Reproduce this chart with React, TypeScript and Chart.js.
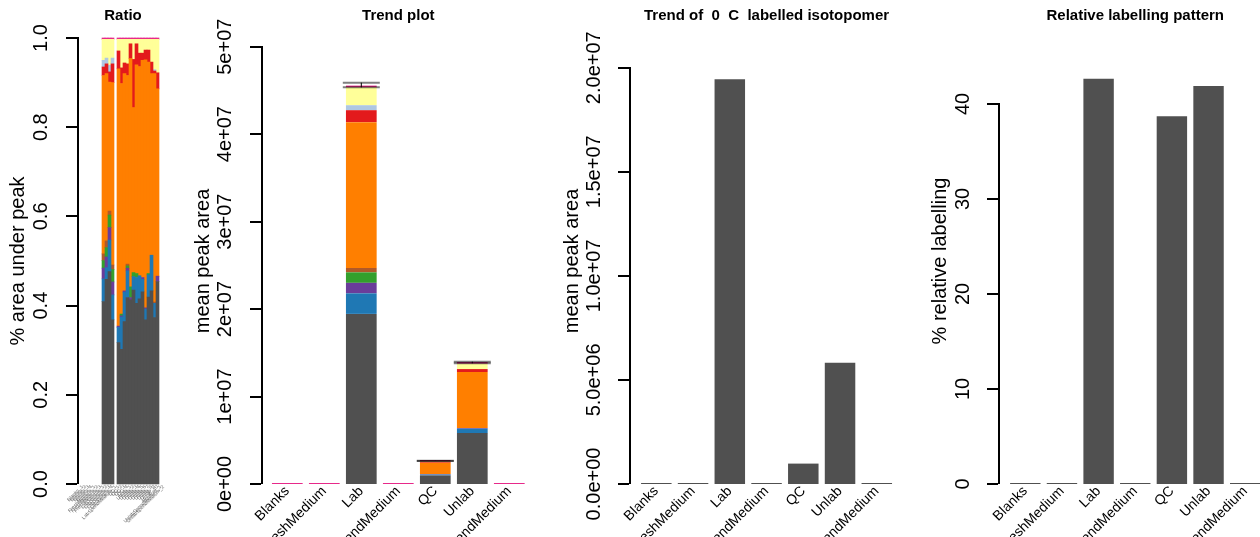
import React, { useEffect, useRef } from 'react';
import { Chart, registerables } from 'chart.js';

Chart.register(...registerables);

const FONT = '"Liberation Sans", Arial, Helvetica, sans-serif';
Chart.defaults.font.family = FONT;
Chart.defaults.color = '#000';

// ---------------- DATA ----------------
const groupNames = ['Blanks', 'FreshMedium', 'Lab', 'LabSpendMedium', 'QC', 'Unlab', 'UnlabSpendMedium'];

const sampleNames = [
  'Blanks_1', 'Blanks_2', 'Blanks_3', 'Blanks_4',
  'FreshMedium_1', 'FreshMedium_2', 'FreshMedium_3',
  'LabSample_1', 'LabSample_2', 'LabSample_3', 'LabSample_4',
  'LabSpendMedium_1',
  'QC_1', 'QC_2', 'QC_3', 'QC_4',
  'Unlab_1', 'Unlab_2', 'Unlab_3', 'Unlab_4', 'Unlab_5', 'Unlab_6', 'Unlab_7', 'Unlab_8', 'Unlab_9', 'Unlab_10',
  'UnlabSpendMedium_1', 'UnlabSpendMedium_2',
];

const isotopologueNames = ['M+0', 'M+1', 'M+2', 'M+3', 'M+4', 'M+5', 'M+6', 'M+7', 'M+8', 'M+9'];
const isotopologueColors = ['#505050', '#1F78B4', '#6A3D9A', '#33A02C', '#B15928', '#FF7F00', '#E31A1C', '#AFC7E2', '#FFFF99', '#E7298A'];

// Ratio (fraction of area under peak) per sample
const ratioM0 = [0, 0, 0, 0, 0, 0, 0, 0.409, 0.459, 0.476, 0.368, 0, 0.317, 0.302, 0.364, 0.418, 0.413, 0.435, 0.405, 0.415, 0.431, 0.368, 0.419, 0.433, 0.373, 0.454, 0, 0];
const ratioM1 = [0, 0, 0, 0, 0, 0, 0, 0.051, 0.026, 0.071, 0.056, 0, 0.034, 0.072, 0.066, 0.060, 0, 0.030, 0.058, 0.052, 0.028, 0.024, 0.050, 0.080, 0.032, 0, 0, 0];
const ratioM2 = [0, 0, 0, 0, 0, 0, 0, 0.024, 0.024, 0.028, 0.029, 0, 0.003, 0.003, 0.003, 0.006, 0.005, 0, 0, 0, 0.004, 0.003, 0, 0, 0, 0.012, 0, 0];
const ratioM3 = [0, 0, 0, 0, 0, 0, 0, 0.017, 0.021, 0.028, 0.028, 0, 0, 0.004, 0, 0.005, 0.024, 0.009, 0.009, 0, 0, 0, 0.003, 0, 0, 0, 0, 0];
const ratioM4 = [0, 0, 0, 0, 0, 0, 0, 0.015, 0.015, 0.009, 0.010, 0, 0, 0, 0, 0.004, 0, 0, 0, 0, 0, 0, 0, 0, 0.003, 0, 0, 0];
const ratioM5 = [0, 0, 0, 0, 0, 0, 0, 0.400, 0.375, 0.289, 0.409, 0, 0.577, 0.517, 0.487, 0.423, 0.512, 0.370, 0.468, 0.469, 0.487, 0.556, 0.474, 0.407, 0.512, 0.420, 0, 0];
const ratioM6 = [0, 0, 0, 0, 0, 0, 0, 0.019, 0.022, 0.023, 0.042, 0, 0.040, 0.035, 0.024, 0.026, 0.033, 0.108, 0.047, 0.030, 0.016, 0.022, 0.027, 0.026, 0.006, 0.036, 0, 0];
const ratioM7 = [0, 0, 0, 0, 0, 0, 0, 0.015, 0.013, 0.015, 0.013, 0, 0, 0, 0, 0, 0, 0, 0, 0, 0, 0, 0, 0, 0.003, 0, 0, 0];
const ratioM8 = [0, 0, 0, 0, 0, 0, 0, 0.047, 0.042, 0.058, 0.042, 0, 0.026, 0.064, 0.053, 0.055, 0.010, 0.045, 0.010, 0.031, 0.031, 0.024, 0.024, 0.051, 0.068, 0.075, 0, 0];
const ratioM9 = [0, 0, 0, 0, 0, 0, 0, 0.003, 0.003, 0.003, 0.003, 0, 0.003, 0.003, 0.003, 0.003, 0.003, 0.003, 0.003, 0.003, 0.003, 0.003, 0.003, 0.003, 0.003, 0.003, 0, 0];
const ratioSeries = [ratioM0, ratioM1, ratioM2, ratioM3, ratioM4, ratioM5, ratioM6, ratioM7, ratioM8, ratioM9];

// Trend plot: mean peak area per group, per isotopologue
const trendM0 = [0, 0, 1.945e7, 0, 0.98e6, 5.82e6, 0];
const trendM1 = [0, 0, 2.35e6, 0, 0.10e6, 0.50e6, 0];
const trendM2 = [0, 0, 1.2e6, 0, 0.05e6, 0.08e6, 0];
const trendM3 = [0, 0, 1.2e6, 0, 0, 0, 0];
const trendM4 = [0, 0, 0.5e6, 0, 0, 0, 0];
const trendM5 = [0, 0, 1.667e7, 0, 1.30e6, 6.40e6, 0];
const trendM6 = [0, 0, 1.37e6, 0, 0.12e6, 0.34e6, 0];
const trendM7 = [0, 0, 0.57e6, 0, 0, 0, 0];
const trendM8 = [0, 0, 2.04e6, 0, 0.07e6, 0.61e6, 0];
const trendM9 = [0, 0, 0.2e6, 0, 0.02e6, 0.2e6, 0];
const trendSeries = [trendM0, trendM1, trendM2, trendM3, trendM4, trendM5, trendM6, trendM7, trendM8, trendM9];
const trendTotalMean = [null, null, 4.562e7, null, 2.65e6, 1.389e7, null];
const trendTotalSd = [null, null, 0.027e7, null, 0.01e6, 0.009e7, null];

// Trend of labelled isotopomer (M+0 mean peak area)
const labelledMean = trendM0;

// Relative labelling pattern (%)
const relativeLabelling = [0, 0, 42.65, 0, 38.7, 41.9, 0];

// Tick values and labels
const ratioTicks = [0, 0.2, 0.4, 0.6, 0.8, 1.0];
const ratioTickLabels = ['0.0', '0.2', '0.4', '0.6', '0.8', '1.0'];
const trendTicks = [0, 1e7, 2e7, 3e7, 4e7, 5e7];
const trendTickLabels = ['0e+00', '1e+07', '2e+07', '3e+07', '4e+07', '5e+07'];
const labelledTicks = [0, 5e6, 1e7, 1.5e7, 2e7];
const labelledTickLabels = ['0.0e+00', '5.0e+06', '1.0e+07', '1.5e+07', '2.0e+07'];
const relTicks = [0, 10, 20, 30, 40];
const relTickLabels = ['0', '10', '20', '30', '40'];

// ---------------- PLUGINS ----------------
const yTitlePlugin = {
  id: 'yTitle',
  afterDraw(chart: any, _args: any, opts: any) {
    if (!opts || !opts.text) return;
    const { ctx } = chart;
    ctx.save();
    ctx.translate(opts.x, opts.y);
    ctx.rotate(-Math.PI / 2);
    ctx.font = `20px ${FONT}`;
    ctx.fillStyle = '#000';
    ctx.textAlign = 'center';
    ctx.textBaseline = 'middle';
    ctx.fillText(opts.text, 0, 0);
    ctx.restore();
  },
};

const errorBarPlugin = {
  id: 'errorBars',
  afterDatasetsDraw(chart: any, _args: any, opts: any) {
    if (!opts || !opts.means) return;
    const { ctx } = chart;
    const x = chart.scales.x;
    const y = chart.scales.y;
    const half = (x.getPixelForValue(1) - x.getPixelForValue(0)) / 2;
    opts.means.forEach((m: number | null, i: number) => {
      const e = opts.sds[i];
      if (m == null || e == null) return;
      const cx = x.getPixelForValue(i);
      const yHi = y.getPixelForValue(m + e);
      const yLo = y.getPixelForValue(m - e);
      ctx.save();
      ctx.strokeStyle = '#000';
      ctx.lineWidth = 1;
      ctx.beginPath();
      ctx.moveTo(cx, yHi);
      ctx.lineTo(cx, yLo);
      ctx.stroke();
      ctx.strokeStyle = 'rgba(0,0,0,0.5)';
      ctx.lineWidth = 2;
      ctx.beginPath();
      ctx.moveTo(cx - half, yHi);
      ctx.lineTo(cx + half, yHi);
      ctx.stroke();
      ctx.beginPath();
      ctx.moveTo(cx - half, yLo);
      ctx.lineTo(cx + half, yLo);
      ctx.stroke();
      ctx.restore();
    });
  },
};

// ---------------- CONFIG BUILDER ----------------
const H = 537;

function panelConfig(o: any) {
  return {
    type: 'bar',
    data: {
      labels: o.names.map((_: string, i: number) => i),
      datasets: o.datasets,
    },
    options: {
      responsive: false,
      maintainAspectRatio: false,
      animation: false,
      devicePixelRatio: 1,
      layout: { padding: { left: 0, top: 0, right: o.padRight, bottom: 0 } },
      datasets: {
        bar: {
          categoryPercentage: 1,
          barPercentage: o.barPct,
          borderWidth: 0,
          clip: false,
          inflateAmount: (c: any) => (c.raw ? (o.barPct === 1 ? 0.33 : 0) : 0),
        },
      },
      plugins: {
        legend: { display: false },
        tooltip: { enabled: false },
        title: {
          display: true,
          text: o.title,
          fullSize: false,
          color: '#000',
          font: { size: 15, weight: 'bold', family: FONT },
          padding: { top: 7, bottom: o.top - 25 },
        },
        yTitle: { text: o.yTitle, x: o.yTitleX, y: 261 },
        errorBars: o.errorBars || {},
      },
      scales: {
        x: {
          type: 'linear',
          stacked: true,
          min: o.xMin,
          max: o.xMax,
          offset: false,
          afterBuildTicks: (s: any) => {
            s.ticks = o.names.map((_: string, i: number) => ({ value: i }));
          },
          ticks: {
            autoSkip: false,
            minRotation: 45,
            maxRotation: 45,
            padding: o.xPad,
            color: o.xColor,
            font: { size: o.xFont, family: FONT },
            callback: (_v: any, i: number) => o.names[i],
          },
          grid: { display: false, drawTicks: false },
          border: { display: false },
          afterFit: (s: any) => {
            s.height = H - o.bottom;
          },
        },
        y: {
          type: 'linear',
          stacked: true,
          min: 0,
          max: o.yMax,
          afterBuildTicks: (s: any) => {
            s.ticks = o.yTicks.map((v: number) => ({ value: v }));
          },
          ticks: {
            autoSkip: false,
            minRotation: 90,
            maxRotation: 90,
            crossAlign: 'center',
            padding: o.yTickPad,
            color: '#000',
            font: { size: 20, family: FONT },
            callback: (_v: any, i: number) => o.yTickLabels[i],
          },
          grid: {
            drawOnChartArea: false,
            drawTicks: true,
            tickLength: 12,
            color: '#000',
            lineWidth: 0,
            tickWidth: 2,
            tickColor: '#000',
          },
          border: { display: true, color: '#000', width: 2 },
          afterFit: (s: any) => {
            s.width = o.yWidth;
          },
        },
      },
    },
    plugins: [yTitlePlugin, errorBarPlugin],
  };
}

function stackedDatasets(series: number[][], zeroLine: boolean) {
  return series.map((d, k) => ({
    label: isotopologueNames[k],
    data: d,
    backgroundColor: isotopologueColors[k],
    minBarLength: zeroLine && k === series.length - 1 ? 1 : 0,
  }));
}

function ChartPanel({ left, width, make }: { left: number; width: number; make: () => any }) {
  const ref = useRef<HTMLCanvasElement | null>(null);
  useEffect(() => {
    const chart = new Chart(ref.current as HTMLCanvasElement, make());
    return () => chart.destroy();
  }, []);
  return (
    <canvas
      ref={ref}
      width={width}
      height={H}
      style={{ position: 'absolute', left, top: 0, width, height: H }}
    />
  );
}

const makeRatio = () =>
  panelConfig({
    names: sampleNames,
    datasets: stackedDatasets(ratioSeries, false),
    title: 'Ratio',
    yTitle: '% area under peak',
    yTitleX: 18,
    top: 38,
    bottom: 484,
    yWidth: 78,
    padRight: 27,
    xMin: -1.5,
    xMax: 28.5,
    barPct: 1,
    xFont: 5,
    xColor: '#666',
    xPad: 0,
    yMax: 1,
    yTicks: ratioTicks,
    yTickLabels: ratioTickLabels,
    yTickPad: 10.4,
  });

const makeTrend = () =>
  panelConfig({
    names: groupNames,
    datasets: stackedDatasets(trendSeries, true),
    title: 'Trend plot',
    yTitle: 'mean peak area',
    yTitleX: 13,
    top: 46.7,
    bottom: 484,
    yWidth: 72,
    padRight: 15.4,
    xMin: -0.684,
    xMax: 6.684,
    barPct: 0.83,
    xFont: 14,
    xColor: '#000',
    xPad: -1,
    yMax: 5e7,
    yTicks: trendTicks,
    yTickLabels: trendTickLabels,
    yTickPad: -3.1,
    errorBars: { means: trendTotalMean, sds: trendTotalSd },
  });

const makeLabelled = () =>
  panelConfig({
    names: groupNames,
    datasets: [{ label: 'M+0', data: labelledMean, backgroundColor: '#505050', minBarLength: 1 }],
    title: 'Trend of  0  C  labelled isotopomer',
    yTitle: 'mean peak area',
    yTitleX: 27,
    top: 67.7,
    bottom: 484,
    yWidth: 85,
    padRight: 16.9,
    xMin: -0.716,
    xMax: 6.716,
    barPct: 0.83,
    xFont: 14,
    xColor: '#000',
    xPad: -1,
    yMax: 2e7,
    yTicks: labelledTicks,
    yTickLabels: labelledTickLabels,
    yTickPad: -13.4,
  });

const makeRelative = () =>
  panelConfig({
    names: groupNames,
    datasets: [{ label: '% relative labelling', data: relativeLabelling, backgroundColor: '#505050', minBarLength: 1 }],
    title: 'Relative labelling pattern',
    yTitle: '% relative labelling',
    yTitleX: 30,
    top: 104,
    bottom: 484,
    yWidth: 89,
    padRight: 18.5,
    xMin: -0.718,
    xMax: 6.718,
    barPct: 0.83,
    xFont: 14,
    xColor: '#000',
    xPad: -1,
    yMax: 40,
    yTicks: relTicks,
    yTickLabels: relTickLabels,
    yTickPad: 12.6,
  });

export default function App() {
  return (
    <div
      style={{
        position: 'absolute',
        left: 0,
        top: 0,
        width: 1260,
        height: H,
        overflow: 'hidden',
        background: '#fff',
      }}
    >
      <ChartPanel left={0} width={195} make={makeRatio} />
      <ChartPanel left={190} width={360} make={makeTrend} />
      <ChartPanel left={545} width={375} make={makeLabelled} />
      <ChartPanel left={910} width={380} make={makeRelative} />
    </div>
  );
}
